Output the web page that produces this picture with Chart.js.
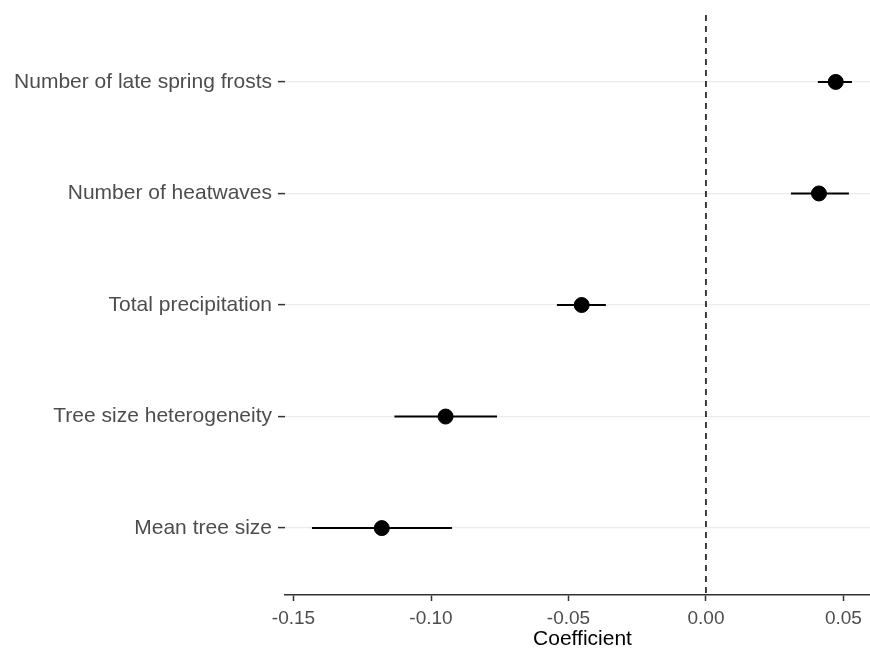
<!DOCTYPE html>
<html lang="en">
<head>
    <meta charset="UTF-8">
    <title>Coefficient plot</title>
    <script src="https://cdn.jsdelivr.net/npm/chart.js"></script>
    <style>
        html, body { margin: 0; padding: 0; background: #fff; }
        .clip { width: 870px; height: 650px; overflow: hidden; }
        .wrap { width: 880px; height: 650px; position: relative; }
    </style>
</head>
<body>
    <div class="clip">
        <div class="wrap">
            <canvas id="coefChart"></canvas>
        </div>
    </div>
<script>
    // Predictors, top to bottom
    const predictors = [
        "Number of late spring frosts",
        "Number of heatwaves",
        "Total precipitation",
        "Tree size heterogeneity",
        "Mean tree size"
    ];
    // Estimates and interval bounds
    const estimates = [0.0472, 0.0411, -0.0452, -0.0947, -0.1179];
    const lower = [0.0407, 0.0309, -0.0542, -0.1133, -0.1433];
    const upper = [0.0531, 0.0520, -0.0364, -0.0760, -0.0924];
    const xTicks = [-0.15, -0.10, -0.05, 0.00, 0.05];

    const textGrey = '#4d4d4d';
    const fontFamily = "'Liberation Sans', Arial, sans-serif";

    // one short line per predictor for the interval
    const intervalSets = predictors.map((name, i) => ({
        type: 'line',
        data: [{ x: lower[i], y: i + 1 }, { x: upper[i], y: i + 1 }],
        borderColor: '#000',
        borderWidth: 2,
        pointRadius: 0,
        order: 2
    }));

    new Chart(document.getElementById('coefChart'), {
        type: 'scatter',
        data: {
            datasets: [
                {
                    type: 'line',
                    data: [{ x: 0, y: 0.4 }, { x: 0, y: 5.6 }],
                    borderColor: '#000',
                    borderWidth: 1.5,
                    borderDash: [6, 5],
                    pointRadius: 0,
                    order: 3
                },
                ...intervalSets,
                {
                    data: estimates.map((v, i) => ({ x: v, y: i + 1 })),
                    backgroundColor: '#000',
                    borderColor: '#000',
                    pointRadius: 7.5,
                    order: 1
                }
            ]
        },
        options: {
            responsive: true,
            maintainAspectRatio: false,
            animation: false,
            layout: { autoPadding: false, padding: { top: 15, right: 0, left: 0, bottom: 0 } },
            plugins: {
                legend: { display: false },
                tooltip: { enabled: false }
            },
            scales: {
                x: {
                    type: 'linear',
                    min: -0.1531,
                    max: 0.0633,
                    afterBuildTicks: (scale) => {
                        scale.ticks = xTicks.map(v => ({ value: v }));
                    },
                    afterFit: (scale) => {
                        scale.height = 55;
                        scale.paddingLeft = 0;
                        scale.paddingRight = 0;
                    },
                    grid: {
                        drawOnChartArea: false,
                        color: 'transparent',
                        tickColor: '#333',
                        tickLength: 6,
                        tickWidth: 1.5
                    },
                    border: { display: true, color: '#333', width: 1.5 },
                    ticks: {
                        color: textGrey,
                        padding: 8,
                        font: { family: fontFamily, size: 19, lineHeight: 1 },
                        callback: (v) => v.toFixed(2)
                    },
                    title: {
                        display: true,
                        text: 'Coefficient',
                        color: '#000',
                        padding: { top: 0, bottom: 0 },
                        font: { family: fontFamily, size: 21, lineHeight: 1 }
                    }
                },
                y: {
                    type: 'linear',
                    reverse: true,
                    min: 0.4,
                    max: 5.6,
                    afterBuildTicks: (scale) => {
                        scale.ticks = predictors.map((p, i) => ({ value: i + 1 }));
                    },
                    afterFit: (scale) => {
                        scale.width = 285;
                        scale.paddingTop = 0;
                        scale.paddingBottom = 0;
                    },
                    grid: {
                        color: '#ebebeb',
                        lineWidth: 1.2,
                        tickColor: '#333',
                        tickLength: 7,
                        tickWidth: 1.5
                    },
                    border: { display: false },
                    ticks: {
                        color: textGrey,
                        padding: 6,
                        font: { family: fontFamily, size: 21 },
                        callback: (v) => predictors[Math.round(v) - 1]
                    }
                }
            }
        }
    });
</script>
</body>
</html>
